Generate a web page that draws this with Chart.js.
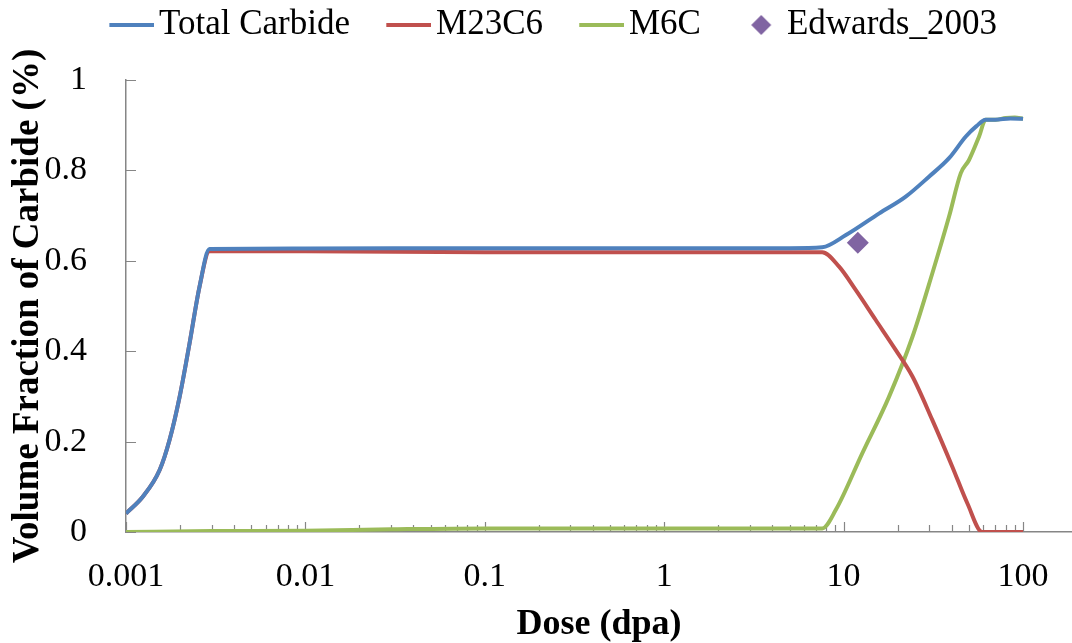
<!DOCTYPE html>
<html>
<head>
<meta charset="utf-8">
<script src="https://cdn.jsdelivr.net/npm/chart.js@4.4.0/dist/chart.umd.min.js"></script>
<style>
html, body { margin: 0; padding: 0; background: #fff; }
</style>
</head>
<body>
<canvas id="chart" width="1072" height="643"></canvas>
<script>
// Data (dose in dpa, volume fraction)
const totalDose = [0.001, 0.00124, 0.00154, 0.00175, 0.00199, 0.00226, 0.00257, 0.00292, 0.01, 0.1, 1, 5, 7.6, 10.3, 15.8, 22.2, 29.9, 38.7, 48, 55, 61.9, 70, 85, 100];
const totalFrac = [0.041, 0.078, 0.137, 0.204, 0.299, 0.417, 0.543, 0.626, 0.627, 0.628, 0.628, 0.628, 0.63, 0.657, 0.705, 0.742, 0.786, 0.827, 0.875, 0.898, 0.912, 0.912, 0.915, 0.914];

const m23Dose = [0.001, 0.00124, 0.00154, 0.00175, 0.00199, 0.00226, 0.00257, 0.00292, 0.01, 0.1, 1, 7.6, 9.44, 11.7, 15.1, 19.5, 24.2, 31.2, 40.4, 49, 59.3, 100];
const m23Frac = [0.041, 0.078, 0.137, 0.204, 0.299, 0.417, 0.543, 0.621, 0.621, 0.619, 0.619, 0.619, 0.587, 0.535, 0.469, 0.403, 0.344, 0.248, 0.144, 0.063, 0, 0];

const m6Dose = [0.001, 0.003, 0.01, 0.03, 0.1, 1, 7.6, 9.05, 12.7, 17.9, 24.2, 31.2, 38.7, 45, 50, 56.9, 61.9, 70, 80, 90, 100];
const m6Frac = [0, 0.002, 0.003, 0.006, 0.008, 0.008, 0.008, 0.049, 0.174, 0.299, 0.432, 0.572, 0.698, 0.794, 0.823, 0.875, 0.912, 0.912, 0.916, 0.917, 0.914];

const edwardsDose = [12];
const edwardsFrac = [0.64];

const xTicks = [0.001, 0.01, 0.1, 1, 10, 100];
const xTickLabels = ['0.001', '0.01', '0.1', '1', '10', '100'];
const yTicks = [0, 0.2, 0.4, 0.6, 0.8, 1];
const yTickLabels = ['0', '0.2', '0.4', '0.6', '0.8', '1'];

const BLUE = '#4F81BD', RED = '#C0504D', GREEN = '#9BBB59', PURPLE = '#8064A2';
const AXIS = '#868686';
const FONT = "'Liberation Serif', 'Times New Roman', serif";

function toPoints(xs, ys) {
  return xs.map((x, i) => ({ x: x, y: ys[i] }));
}

// legend swatches (drawn off-centre so the text sits close to them, like Excel)
function lineSwatch(color) {
  const c = document.createElement('canvas');
  c.width = 94; c.height = 6;
  const g = c.getContext('2d');
  g.fillStyle = color;
  g.fillRect(49, 1, 45, 4);
  return c;
}
function diamondSwatch(color) {
  const c = document.createElement('canvas');
  c.width = 94; c.height = 22;
  const g = c.getContext('2d');
  g.fillStyle = color;
  g.beginPath();
  g.moveTo(73, 1); g.lineTo(83, 11); g.lineTo(73, 21); g.lineTo(63, 11);
  g.closePath();
  g.fill();
  return c;
}
const swatches = [lineSwatch(BLUE), lineSwatch(RED), lineSwatch(GREEN), diamondSwatch(PURPLE)];

// inside tick marks, Excel style
const insideTicks = {
  id: 'insideTicks',
  beforeDatasetsDraw(chart) {
    const ctx = chart.ctx;
    const xs = chart.scales.x, ys = chart.scales.y;
    const area = chart.chartArea;
    ctx.save();
    ctx.strokeStyle = AXIS;
    ctx.lineWidth = 1.2;
    ctx.beginPath();
    xTicks.forEach((v, i) => {
      const px = Math.round(xs.getPixelForValue(v)) + 0.5;
      ctx.moveTo(px, area.bottom); ctx.lineTo(px, area.bottom - 10);
      if (i < xTicks.length - 1) {
        for (let m = 2; m <= 9; m++) {
          const mx = Math.round(xs.getPixelForValue(v * m)) + 0.5;
          ctx.moveTo(mx, area.bottom); ctx.lineTo(mx, area.bottom - 7);
        }
      }
    });
    yTicks.forEach(v => {
      const py = Math.round(ys.getPixelForValue(v)) + 0.5;
      ctx.moveTo(area.left, py); ctx.lineTo(area.left + 10, py);
    });
    ctx.stroke();
    ctx.restore();
  }
};

// nudge the legend to where Excel put it
const legendSpot = {
  id: 'legendSpot',
  afterLayout(chart) {
    const lg = chart.legend;
    const h = lg.height;
    lg.left = -2;
    lg.top = 7.5;
    lg.bottom = lg.top + h;
  }
};

const ctx = document.getElementById('chart').getContext('2d');
new Chart(ctx, {
  type: 'scatter',
  data: {
    datasets: [
      {
        label: 'Total Carbide',
        data: toPoints(totalDose, totalFrac),
        showLine: true,
        borderColor: BLUE,
        backgroundColor: BLUE,
        borderWidth: 4,
        pointRadius: 0,
        cubicInterpolationMode: 'monotone'
      },
      {
        label: 'M23C6',
        data: toPoints(m23Dose, m23Frac),
        showLine: true,
        borderColor: RED,
        backgroundColor: RED,
        borderWidth: 4,
        pointRadius: 0,
        cubicInterpolationMode: 'monotone'
      },
      {
        label: 'M6C',
        data: toPoints(m6Dose, m6Frac),
        showLine: true,
        borderColor: GREEN,
        backgroundColor: GREEN,
        borderWidth: 4,
        pointRadius: 0,
        cubicInterpolationMode: 'monotone'
      },
      {
        label: 'Edwards_2003',
        data: toPoints(edwardsDose, edwardsFrac),
        showLine: false,
        pointStyle: 'rectRot',
        pointRadius: 11,
        pointBorderWidth: 0,
        backgroundColor: PURPLE,
        borderColor: PURPLE
      }
    ]
  },
  options: {
    responsive: false,
    animation: false,
    layout: { autoPadding: false, padding: { top: 35, left: 0, right: 0, bottom: 0 } },
    plugins: {
      tooltip: { enabled: false },
      legend: {
        position: 'top',
        labels: {
          usePointStyle: true,
          pointStyleWidth: 68.5,
          boxHeight: 20,
          padding: 0,
          color: '#000',
          font: { family: FONT, size: 35 },
          generateLabels: chart => chart.data.datasets.map((ds, i) => ({
            text: ds.label,
            pointStyle: swatches[i],
            fillStyle: ds.borderColor,
            strokeStyle: ds.borderColor,
            lineWidth: 0,
            hidden: false,
            datasetIndex: i
          }))
        }
      }
    },
    scales: {
      x: {
        type: 'logarithmic',
        min: 0.001,
        max: 187.5,
        afterBuildTicks: s => { s.ticks = xTicks.map(v => ({ value: v, major: true })); },
        afterFit: s => { s.height = 111; s.paddingLeft = 0; s.paddingRight = 0; },
        grid: { display: false },
        border: { display: true, color: AXIS, width: 1.5 },
        ticks: {
          autoSkip: false,
          maxRotation: 0,
          padding: 17,
          color: '#000',
          font: { family: FONT, size: 34 },
          callback: (v) => { const i = xTicks.indexOf(v); return i >= 0 ? xTickLabels[i] : ''; }
        },
        title: {
          display: true,
          text: 'Dose (dpa)',
          color: '#000',
          font: { family: FONT, size: 36, weight: 'bold' },
          padding: { top: 0, bottom: -3 }
        }
      },
      y: {
        min: 0,
        max: 1,
        afterBuildTicks: s => { s.ticks = yTicks.map(v => ({ value: v })); },
        afterFit: s => { s.width = 126; },
        grid: { display: false },
        border: { display: true, color: AXIS, width: 1.5 },
        ticks: {
          padding: 31,
          color: '#000',
          font: { family: FONT, size: 34 },
          callback: (v) => { const i = yTicks.indexOf(v); return i >= 0 ? yTickLabels[i] : ''; }
        },
        title: {
          display: true,
          text: 'Volume Fraction of Carbide (%)',
          color: '#000',
          font: { family: FONT, size: 37, weight: 'bold' },
          padding: { top: 6, bottom: 0 }
        }
      }
    }
  },
  plugins: [insideTicks, legendSpot]
});
</script>
</body>
</html>
